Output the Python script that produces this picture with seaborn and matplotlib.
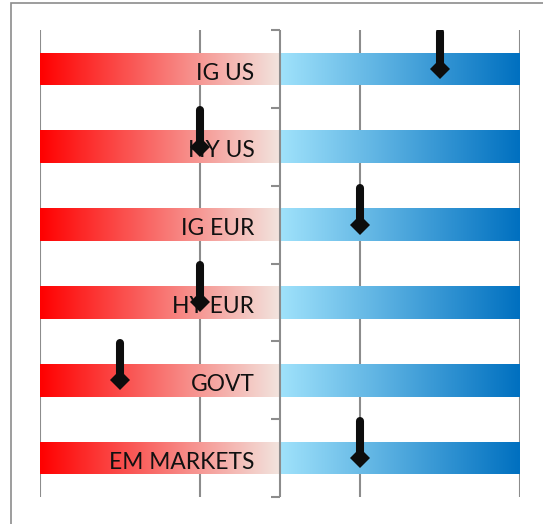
import numpy as np
import pandas as pd
import matplotlib
matplotlib.use("Agg")
import matplotlib.pyplot as plt
import seaborn as sns
from matplotlib.colors import LinearSegmentedColormap
from matplotlib.patches import Rectangle

# ---- data ----
categories = ["IG US", "HY US", "IG EUR", "HY EUR", "GOVT", "EM MARKETS"]
scores = [2, -1, 1, -1, -2, 1]
neg_limit = [-3, -3, -3, -3, -3, -3]
pos_limit = [3, 3, 3, 3, 3, 3]
grid_ticks = [-3, -1, 1, 3]

sns.set_theme(style="white")
plt.rcParams["font.family"] = ["Lato", "DejaVu Sans"]

fig = plt.figure(figsize=(5.43, 5.24), dpi=100)
# outer chart frame
fig.patches.append(Rectangle((11 / 543, -0.05), 1.2, 1.05 - 2.5 / 524,
                             transform=fig.transFigure, fill=False,
                             edgecolor="#8c8c8c", linewidth=1.2, zorder=0))
ax = fig.add_axes([40 / 543, 27 / 524, 480 / 543, 467 / 524])
ax.set_facecolor("none")

df = pd.DataFrame({"cat": categories, "neg": neg_limit, "pos": pos_limit})
sns.barplot(data=df, x="neg", y="cat", orient="h", width=0.42, ax=ax,
            color="red", linewidth=0)
sns.barplot(data=df, x="pos", y="cat", orient="h", width=0.42, ax=ax,
            color="blue", linewidth=0)

red_cmap = LinearSegmentedColormap.from_list("r", ["#FF0000", "#F2E4DE"])
blue_cmap = LinearSegmentedColormap.from_list("b", ["#A0E2FB", "#0070C0"])
grad = np.linspace(0, 1, 256).reshape(1, -1)
for p in list(ax.patches):
    x0, y0 = p.get_x(), p.get_y()
    w, h = p.get_width(), p.get_height()
    xa, xb = min(x0, x0 + w), max(x0, x0 + w)
    cmap = red_cmap if xa < 0 else blue_cmap
    im = ax.imshow(grad, aspect="auto", cmap=cmap,
                   extent=(xa, xb, y0 + h, y0), zorder=1, interpolation="bilinear")
    im.set_clip_path(p)
    p.set_facecolor("none")

ax.set_xlim(-3, 3)
ax.set_ylim(len(categories) - 0.5, -0.5)

# vertical gridlines
for g in grid_ticks:
    ax.axvline(g, color="#8c8c8c", lw=1.5, zorder=0.5)

# category labels inside bars
for i, c in enumerate(categories):
    ax.text(-0.32, i + 0.136, c, ha="right", va="baseline", fontsize=16.4,
            color="#111111", zorder=3)

# arrows
for i, s in enumerate(scores):
    ax.plot([s, s], [i - 0.475, i], color="#0d0d0d", lw=5.8,
            solid_capstyle="round", zorder=4)
    ax.plot([s], [i], marker="D", color="#0d0d0d", markersize=10,
            markeredgewidth=0, zorder=4)

# y axis at 0 with boundary ticks
ax.axvline(0.0, color="#8c8c8c", lw=1.5, zorder=2)
for b in np.arange(-0.5, len(categories), 1.0):
    ax.plot([-0.115, 0.0], [b, b], color="#8c8c8c", lw=1.5, zorder=2,
            solid_capstyle="butt", clip_on=False)

ax.set_xticks([])
ax.set_yticks([])
ax.set_xlabel("")
ax.set_ylabel("")
for sp in ax.spines.values():
    sp.set_visible(False)

fig.savefig("out.png", dpi=100)
